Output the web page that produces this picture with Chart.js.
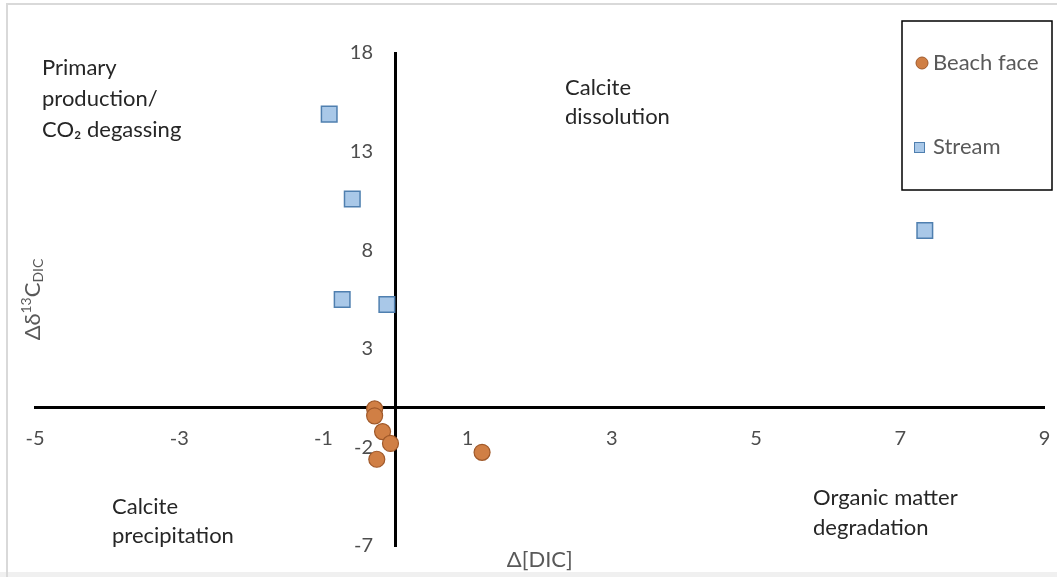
<!DOCTYPE html>
<html>
<head>
<meta charset="utf-8">
<script src="https://cdn.jsdelivr.net/npm/chart.js@4/dist/chart.umd.min.js"></script>
<style>
  html, body { margin: 0; padding: 0; background: #fff; }
  #wrap { width: 1057px; height: 577px; position: relative; }
</style>
</head>
<body>
<div id="wrap"><canvas id="c" width="1057" height="577"></canvas></div>
<script>
// ---- data ----
const beachX = [-0.29, -0.29, -0.18, -0.07, -0.26, 1.2];
const beachY = [-0.05, -0.4, -1.2, -1.8, -2.6, -2.25];
const streamX = [-0.92, -0.6, -0.74, -0.12, 7.34];
const streamY = [14.9, 10.6, 5.5, 5.25, 9.0];
const xTicks = [-5, -3, -1, 1, 3, 5, 7, 9];
const yTicks = [-7, -2, 3, 8, 13, 18];
const seriesNames = ['Beach face', 'Stream'];
const xTitle = 'Δ[DIC]';
const quadrantLabels = [
  ['Primary', 'production/', 'CO₂ degassing'],
  ['Calcite', 'dissolution'],
  ['Calcite', 'precipitation'],
  ['Organic matter', 'degradation']
];

const FONT = 'Lato, "Open Sans", sans-serif';
const toPts = (xs, ys) => xs.map((x, i) => ({x, y: ys[i]}));

const decor = {
  id: 'decor',
  beforeDraw(chart) {
    const ctx = chart.ctx;
    ctx.save();
    ctx.fillStyle = '#fff';
    ctx.fillRect(0, 0, chart.width, chart.height);
    ctx.fillStyle = '#f0f0f0';
    ctx.fillRect(0, 572, chart.width, 5);
    ctx.strokeStyle = '#d9d9d9';
    ctx.lineWidth = 2;
    ctx.beginPath();
    ctx.moveTo(7, 577); ctx.lineTo(7, 4); ctx.lineTo(1057, 4);
    ctx.stroke();
    ctx.restore();
  },
  afterDraw(chart) {
    const ctx = chart.ctx;
    const area = chart.chartArea;
    ctx.save();
    // quadrant annotations
    ctx.fillStyle = '#262626';
    ctx.font = '22px ' + FONT;
    ctx.textBaseline = 'middle';
    ctx.textAlign = 'left';
    const pos = [[42, 68, 31], [565, 88, 29], [112, 507, 29], [813, 498, 30]];
    quadrantLabels.forEach((lines, k) => {
      lines.forEach((t, j) => {
        ctx.fillText(t, pos[k][0], pos[k][1] + j * pos[k][2]);
      });
    });
    // axis titles
    ctx.fillStyle = '#595959';
    ctx.font = '22px ' + FONT;
    ctx.textAlign = 'center';
    ctx.fillText(xTitle, (area.left + area.right) / 2, 560);
    ctx.save();
    ctx.translate(33, (area.top + area.bottom) / 2);
    ctx.rotate(-Math.PI / 2);
    ctx.textAlign = 'left';
    const p1 = 'Δδ', p2 = '13', p3 = 'C', p4 = 'DIC';
    ctx.font = '22px ' + FONT;
    const w1 = ctx.measureText(p1).width;
    const w3 = ctx.measureText(p3).width;
    ctx.font = '14px ' + FONT;
    const w2 = ctx.measureText(p2).width;
    const w4 = ctx.measureText(p4).width;
    let x0 = -(w1 + w2 + w3 + w4) / 2;
    ctx.font = '22px ' + FONT;
    ctx.fillText(p1, x0, 0); x0 += w1;
    ctx.font = '14px ' + FONT;
    ctx.fillText(p2, x0, -7); x0 += w2;
    ctx.font = '22px ' + FONT;
    ctx.fillText(p3, x0, 0); x0 += w3;
    ctx.font = '14px ' + FONT;
    ctx.fillText(p4, x0, 5);
    ctx.restore();
    // legend box
    ctx.strokeStyle = '#000';
    ctx.lineWidth = 1.5;
    ctx.strokeRect(902, 21, 150, 169);
    const ds = chart.data.datasets;
    ctx.font = '22px ' + FONT;
    ctx.textAlign = 'left';
    // beach face
    ctx.beginPath();
    ctx.arc(922, 63, 6, 0, Math.PI * 2);
    ctx.fillStyle = ds[0].backgroundColor;
    ctx.fill();
    ctx.strokeStyle = ds[0].borderColor; ctx.lineWidth = 1;
    ctx.stroke();
    ctx.fillStyle = '#595959';
    ctx.fillText(ds[0].label, 933, 63);
    // stream
    ctx.fillStyle = ds[1].backgroundColor;
    ctx.fillRect(914, 142, 11, 11);
    ctx.strokeStyle = ds[1].borderColor;
    ctx.strokeRect(914.5, 142.5, 10, 10);
    ctx.fillStyle = '#595959';
    ctx.fillText(ds[1].label, 933, 147);
    ctx.restore();
  }
};

new Chart(document.getElementById('c'), {
  type: 'scatter',
  data: {
    datasets: [
      {
        label: seriesNames[0],
        data: toPts(beachX, beachY),
        pointStyle: 'circle',
        pointRadius: 8,
        backgroundColor: '#D07F45',
        borderColor: '#A0592A',
        borderWidth: 1.2
      },
      {
        label: seriesNames[1],
        data: toPts(streamX, streamY),
        pointStyle: 'rect',
        pointRadius: 11,
        backgroundColor: '#A9C8E8',
        borderColor: '#4F7FAF',
        borderWidth: 1.5
      }
    ]
  },
  options: {
    responsive: false,
    animation: false,
    layout: { padding: { left: 35, right: 12, top: 53, bottom: 31 } },
    plugins: { legend: { display: false }, tooltip: { enabled: false } },
    scales: {
      x: {
        type: 'linear',
        min: -5, max: 9,
        position: { y: 0 },
        afterBuildTicks: s => { s.ticks = xTicks.map(v => ({ value: v })); },
        afterFit: s => { s.height = 0; s.paddingLeft = 0; s.paddingRight = 0; },
        grid: { display: false, drawTicks: false },
        border: { display: true, color: '#000', width: 3 },
        ticks: { color: '#4d4d4d', font: { family: FONT, size: 20 }, padding: 19, maxRotation: 0, autoSkip: false }
      },
      y: {
        type: 'linear',
        min: -7, max: 18,
        position: { x: 0 },
        afterBuildTicks: s => { s.ticks = yTicks.map(v => ({ value: v })); },
        afterFit: s => { s.width = 0; s.paddingTop = 0; s.paddingBottom = 0; },
        grid: { display: false, drawTicks: false },
        border: { display: true, color: '#000', width: 3 },
        ticks: {
          color: '#4d4d4d', font: { family: FONT, size: 20 }, autoSkip: false,
          callback: v => String(v) + '\u2002\u2002\u2009'
        }
      }
    }
  },
  plugins: [decor]
});
</script>
</body>
</html>
